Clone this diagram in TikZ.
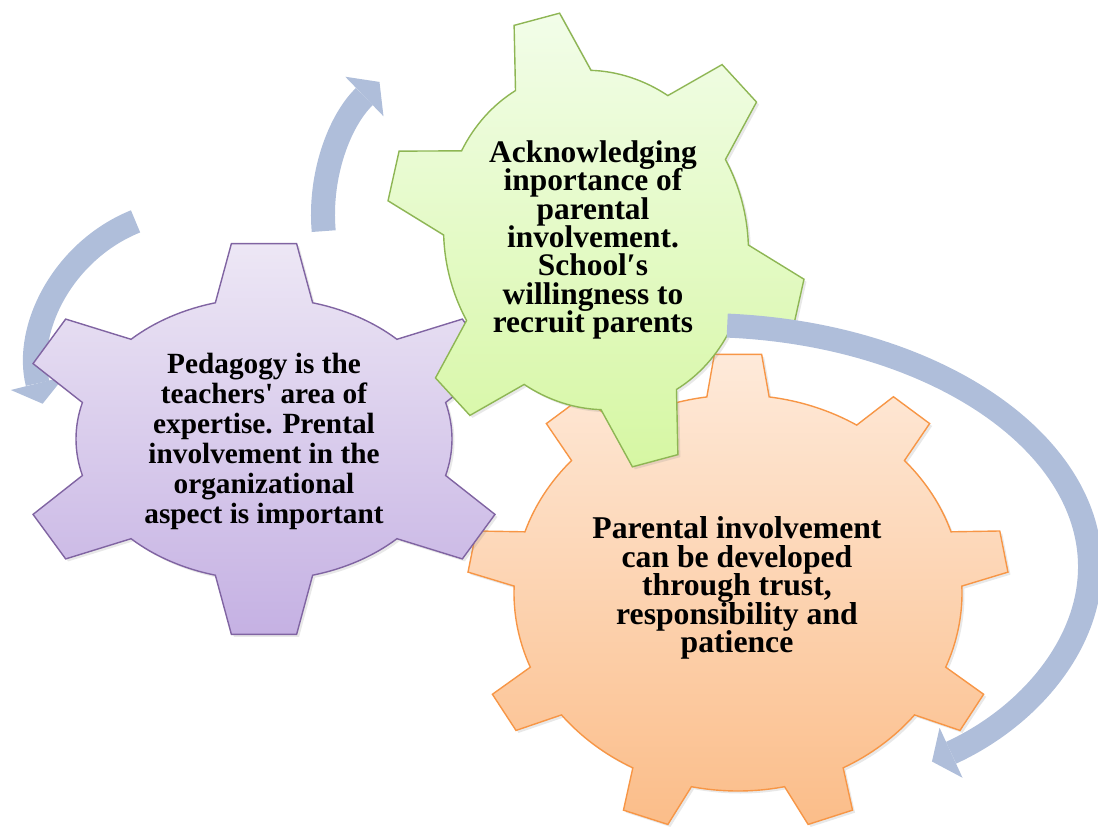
\documentclass[tikz,border=0pt]{standalone}
\usepackage{fontspec}
\setmainfont{Liberation Serif}
\usetikzlibrary{arrows.meta,shadows}

\definecolor{purpleline}{RGB}{128,100,162}
\definecolor{purpletop}{RGB}{237,231,245}
\definecolor{purplebottom}{RGB}{197,177,227}
\definecolor{greenline}{RGB}{142,182,84}
\definecolor{greentop}{RGB}{242,253,233}
\definecolor{greenbottom}{RGB}{214,247,163}
\definecolor{orangeline}{RGB}{247,150,70}
\definecolor{orangetop}{RGB}{254,234,218}
\definecolor{orangebottom}{RGB}{251,189,137}
\definecolor{arrowblue}{RGB}{175,190,218}

\tikzset{
  gear/.style={line width=1.4pt, line join=miter,
    drop shadow={shadow xshift=2.5pt, shadow yshift=-2.5pt, opacity=.18}},
  purplegear/.style={gear, draw=purpleline, top color=purpletop, bottom color=purplebottom},
  greengear/.style={gear, draw=greenline, top color=greentop, bottom color=greenbottom},
  orangegear/.style={gear, draw=orangeline, top color=orangetop, bottom color=orangebottom},
  geartext/.style={align=center, inner sep=0pt},
  cyclearrow/.style={draw=arrowblue, line width=24pt,
    -{Triangle[width=55pt, length=21pt, line width=0pt]}},
}
% bold serif text with a fixed line pitch
\newcommand{\gearfont}[2]{\fontsize{#1}{#2}\selectfont\bfseries\lineskiplimit=-100pt}

\begin{document}
\begin{tikzpicture}[x=1pt, y=-1pt]
\useasboundingbox (0,0) rectangle (1098,827);

% Centres of the three round arrows
\coordinate (loopL) at (194,366);
\coordinate (loopT) at (508,215);
\coordinate (loopR) at (700,567);

% Orange gear: nine teeth on an ellipse
\begin{scope}[shift={(738,593)}]
\path[orangegear] (-98:224 and 198)
  \foreach \a in {-90,-50,...,230} {
    -- (\a-8:224 and 198) -- (\a-5:271 and 239.6) -- (\a+5:271 and 239.6) -- (\a+8:224 and 198)
    arc[start angle=\a+8, end angle=\a+32, x radius=224, y radius=198]
  } -- cycle;
\end{scope}
\node[geartext, font=\gearfont{31.7}{28.6}] (trust) at (737,588)
  {Parental involvement\\can be developed\\through trust,\\responsibility and\\patience};

% Left arrow runs under the purple gear
\draw[cyclearrow] (loopL) ++(248:156) arc[start angle=248, end angle=166, radius=156];

% Purple gear: six teeth
\begin{scope}[shift={(264,439)}]
\path[purplegear] (15:188 and 141)
  \foreach \a in {30,90,...,330} {
    -- (\a-15:188 and 141) -- (\a-7.5:250 and 197) -- (\a+7.5:250 and 197) -- (\a+15:188 and 141)
    arc[start angle=\a+15, end angle=\a+45, x radius=188, y radius=141]
  } -- cycle;
\end{scope}
\node[geartext, font=\gearfont{29.3}{30}] (pedagogy) at (264,441)
  {Pedagogy is the\\teachers\textquotesingle{} area of\\expertise. Prental\\involvement in the\\organizational\\aspect is important};

% Green gear: six teeth, tilted
\begin{scope}[shift={(596,240)}, rotate=15]
\path[greengear] (15:151 and 171)
  \foreach \a in {30,90,...,330} {
    -- (\a-15:151 and 171) -- (\a-6.5:208 and 230) -- (\a+6.5:208 and 230) -- (\a+15:151 and 171)
    arc[start angle=\a+15, end angle=\a+45, x radius=151, y radius=171]
  } -- cycle;
\end{scope}
\node[geartext, font=\gearfont{31.4}{28.3}] (school) at (593,240)
  {Acknowledging\\inportance of\\parental\\involvement.\\School′s\\willingness to\\recruit parents};

% Upper and right arrows
\draw[cyclearrow] (loopT) ++(175:185) arc[start angle=175, end angle=226, radius=185];
\draw[cyclearrow] (loopR) ++(-86:390 and 242) arc[start angle=-86, end angle=53.5, x radius=390, y radius=242];
\end{tikzpicture}
\end{document}
